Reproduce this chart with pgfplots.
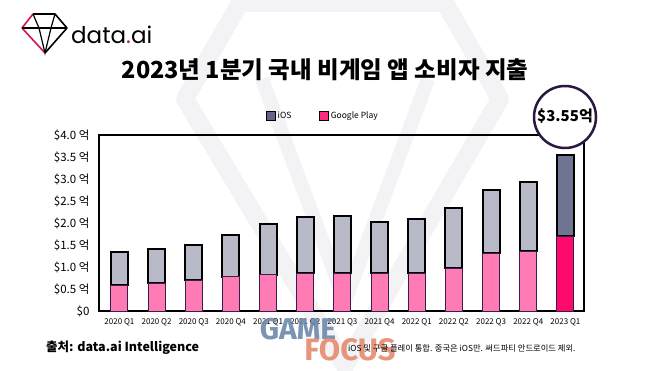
\documentclass[border=0pt]{standalone}
\usepackage{fontspec}
\setmainfont{Noto Sans CJK KR}
\newfontfamily\poppins{Poppins}
\newfontfamily\fira{Fira Sans}
\usepackage{pgfplots}
\pgfplotsset{compat=1.18}
\definecolor{iosL}{HTML}{B9BAC7}
\definecolor{gpL}{HTML}{FF7BB3}
\definecolor{iosD}{HTML}{6F7592}
\definecolor{gpD}{HTML}{FF0A6C}
\definecolor{legIOS}{HTML}{6C5F84}
\definecolor{legGP}{HTML}{FF2A7C}
\definecolor{edgeP}{HTML}{3B1C4E}
\definecolor{circ}{HTML}{2A1843}
\definecolor{wm}{HTML}{F3F3F6}
\definecolor{logopink}{HTML}{D0145E}
\definecolor{gameblue}{HTML}{6E89AC}
\definecolor{focusor}{HTML}{E58A6E}
\begin{document}
\begin{tikzpicture}[x=1pt,y=1pt]
\useasboundingbox (0,0) rectangle (660,371);
\fill[white] (0,0) rectangle (660,371);
% faint background gem
\draw[wm, line width=18pt, line join=round] (240,368) -- (445,368) -- (500,272) -- (345,5) -- (185,272) -- cycle;
\draw[wm, line width=14pt, line join=round] (262,292) -- (345,70) -- (428,292);
% logo
\draw[black, line width=1.6pt, line join=round] (33,357) -- (55,357) -- (67,343) -- (45,318);
\draw[logopink, line width=1.6pt, line join=round] (45,318) -- (22,343) -- (33,357);
\draw[black, line width=1.2pt] (22,343) -- (67,343);
\draw[black, line width=1.2pt] (33,357) -- (39,343) -- (45,318) -- (51,343) -- (55,357);
\node[anchor=west, inner sep=0pt] at (71,336) {\poppins\fontsize{23}{23}\selectfont data{\color{logopink}.}ai};
% title
\node[inner sep=0pt] at (325,301) {\bfseries\fontsize{23.5}{25}\selectfont 2023년 1분기 국내 비게임 앱 소비자 지출};
\begin{axis}[
  at={(99pt,60pt)}, anchor=south west,
  scale only axis, width=485pt, height=176pt,
  xmin=-0.55, xmax=12.5, ymin=0, ymax=4,
  ybar stacked, bar width=17pt,
  axis line style={line width=2pt, black},
  major tick length=0pt,
  xtick=data,
  xticklabels={2020 Q1,2020 Q2,2020 Q3,2020 Q4,2021 Q1,2021 Q2,2021 Q3,2021 Q4,2022 Q1,2022 Q2,2022 Q3,2022 Q4,2023 Q1},
  ytick={0,0.5,1,1.5,2,2.5,3,3.5,4},
  yticklabels={\$0,\$0.5 억,\$1.0 억,\$1.5 억,\$2.0 억,\$2.5 억,\$3.0 억,\$3.5 억,\$4.0 억},
  x tick label style={font=\fontsize{8}{9}\selectfont, yshift=-4pt},
  y tick label style={font=\fontsize{11.5}{12}\selectfont, xshift=-6pt},
  legend style={at={(0.462,1.108)}, anchor=center, legend columns=2, draw=none, fill=none,
    font=\fontsize{8.5}{9}\selectfont, /tikz/every even column/.append style={column sep=26pt}},
  legend image code/.code={\fill[#1] (0pt,-4pt) rectangle (9pt,5pt);},
  clip=false,
]
\addplot[fill=gpL, draw=edgeP, line width=0.9pt, forget plot] coordinates {
 (0,0.59) (1,0.63) (2,0.70) (3,0.78) (4,0.82) (5,0.86) (6,0.86) (7,0.86) (8,0.86) (9,0.97) (10,1.31) (11,1.36) (12,0)};
\addplot[fill=gpD, draw=edgeP, line width=0.9pt, forget plot] coordinates {
 (0,0) (1,0) (2,0) (3,0) (4,0) (5,0) (6,0) (7,0) (8,0) (9,0) (10,0) (11,0) (12,1.70)};
\addplot[fill=iosL, draw=black, line width=2pt, forget plot] coordinates {
 (0,0.76) (1,0.77) (2,0.79) (3,0.95) (4,1.16) (5,1.28) (6,1.30) (7,1.16) (8,1.22) (9,1.36) (10,1.43) (11,1.57) (12,0)};
\addplot[fill=iosD, draw=black, line width=2pt, forget plot] coordinates {
 (0,0) (1,0) (2,0) (3,0) (4,0) (5,0) (6,0) (7,0) (8,0) (9,0) (10,0) (11,0) (12,1.85)};
\addlegendimage{fill=legIOS}
\addlegendentry{iOS}
\addlegendimage{fill=legGP}
\addlegendentry{Google Play}
\end{axis}
% callout circle
\draw[circ, line width=2.5pt, fill=white] (565,254) circle (31);
\node[inner sep=0pt] at (565,255) {\bfseries\fontsize{15}{15}\selectfont \$3.55억};
% watermark
\node[inner sep=0pt, opacity=0.9] at (298,42) {\fira\bfseries\fontsize{30}{30}\selectfont\color{gameblue}GAME};
\node[inner sep=0pt, opacity=0.9] at (350,21) {\fira\bfseries\fontsize{31}{31}\selectfont\color{focusor}FOCUS};
% footer
\node[anchor=west, inner sep=0pt] at (46,23) {\bfseries\fontsize{12.5}{13}\selectfont 출처: data.ai Intelligence};
\node[anchor=west, inner sep=0pt] at (348,23) {\fontsize{8.3}{9}\selectfont iOS 및 구글 플레이 통합. 중국은 iOS만. 써드파티 안드로이드 제외.};
\end{tikzpicture}
\end{document}
